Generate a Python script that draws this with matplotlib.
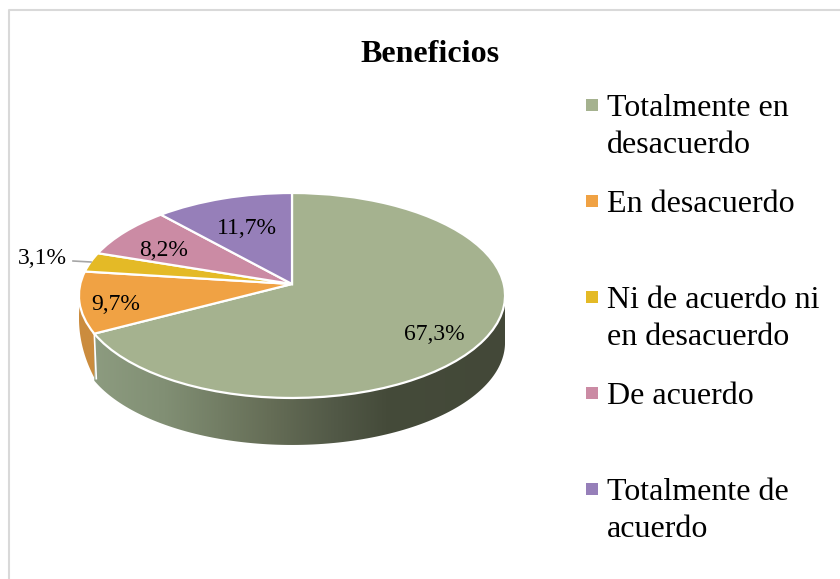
import numpy as np
import matplotlib
matplotlib.use("Agg")
import matplotlib.pyplot as plt
from matplotlib.colors import LinearSegmentedColormap
from matplotlib.patches import Polygon
from matplotlib.transforms import Transform

plt.rcParams["font.family"] = ["Liberation Serif", "DejaVu Serif"]

title = "Beneficios"
categories = ["Totalmente en\ndesacuerdo", "En desacuerdo", "Ni de acuerdo ni\nen desacuerdo",
              "De acuerdo", "Totalmente de\nacuerdo"]
values = [67.3, 9.7, 3.1, 8.2, 11.7]
value_labels = ["67,3%", "9,7%", "3,1%", "8,2%", "11,7%"]
colors = ["#a5b28f", "#f0a244", "#e4ba26", "#cb8ba4", "#967fb9"]

# where the pie apex and ellipse sit, in pixels
cx, cy = 292, 284
rx, ry, tilt = 211.7, 101.2, 0.112
depth = 47


class Tilted(Transform):
    # perspective view of the flat pie, far edge is smaller
    input_dims = 2
    output_dims = 2
    is_affine = False

    def transform_non_affine(self, values):
        values = np.asarray(values, dtype=float)
        w = 1 + tilt * values[:, 1]
        return np.column_stack([cx + rx * values[:, 0] / w, cy - ry * values[:, 1] / w])


def rim(start, stop):
    ang = np.linspace(start, stop, 120) * 2 * np.pi
    return Tilted().transform(np.column_stack([np.sin(ang), np.cos(ang)]))


def add_wall(ax, start, stop, cmap, drop_start, drop_stop):
    top = rim(start, stop)
    low = top.copy()
    low[:, 1] += np.linspace(drop_start, drop_stop, len(low))
    poly = Polygon(np.vstack([top, low[::-1]]), closed=True, transform=ax.transData,
                   facecolor="none", edgecolor="none")
    ax.add_patch(poly)
    img = ax.imshow(np.linspace(0, 1, 256)[None, :], cmap=cmap, aspect="auto", zorder=0,
                    extent=(cx - 213, cx + 213, 579, 0))
    img.set_clip_path(poly)


fig = plt.figure(figsize=(8.4, 5.79), dpi=100)
ax = fig.add_axes([0, 0, 1, 1])

green_side = LinearSegmentedColormap.from_list(
    "green_side", [(0, "#8f9e82"), (0.2, "#818f74"), (0.45, "#656d56"), (0.6, "#525947"),
                   (0.72, "#454b3a"), (1, "#434838")])
orange_side = LinearSegmentedColormap.from_list("orange_side", ["#cb8c3e", "#cb8c3e"])

ends = np.cumsum(values) / np.sum(values)
add_wall(ax, 0.268, ends[0], green_side, depth, depth)
add_wall(ax, ends[0], 0.76, orange_side, depth - 3, 12)

wedges, _ = ax.pie(values, colors=colors, startangle=90, counterclock=False, radius=1,
                   wedgeprops={"edgecolor": "white", "linewidth": 1.6})
for w in wedges:
    w.set_transform(Tilted() + ax.transData)

# white seam between the two side pieces
seam = rim(ends[0], ends[0])[0]
ax.plot([seam[0], seam[0] + 2], [seam[1], seam[1] + depth - 2], color="white", lw=1.2, zorder=0.5)

ax.set_aspect("auto")
ax.set_xlim(0, 840)
ax.set_ylim(579, 0)
ax.axis("off")

# frame, only top and left show
ax.plot([8.5, 8.5, 840], [579, 10, 10], color="#d9d9d9", lw=1.5, zorder=0.2)

ax.text(430, 54, title, fontsize=23, fontweight="bold", ha="center", va="center", color="black")

label_pos = [(434, 335), (116, 304), (42, 259), (164, 251), (247, 228)]
for txt, (x, y) in zip(value_labels, label_pos):
    ax.text(x, y, txt, fontsize=17, ha="center", va="center", color="black")
ax.plot([73, 91], [261, 262], color="#a6a6a6", lw=1.2)

for i, (name, c) in enumerate(zip(categories, colors)):
    y = 104.5 + 96 * i
    ax.scatter([592], [y], marker="s", s=68, color=c, linewidths=0)
    ax.text(607, y - 10, name, fontsize=23, ha="left", va="top", color="black", linespacing=1.36)

fig.savefig("out.png", dpi=100)
